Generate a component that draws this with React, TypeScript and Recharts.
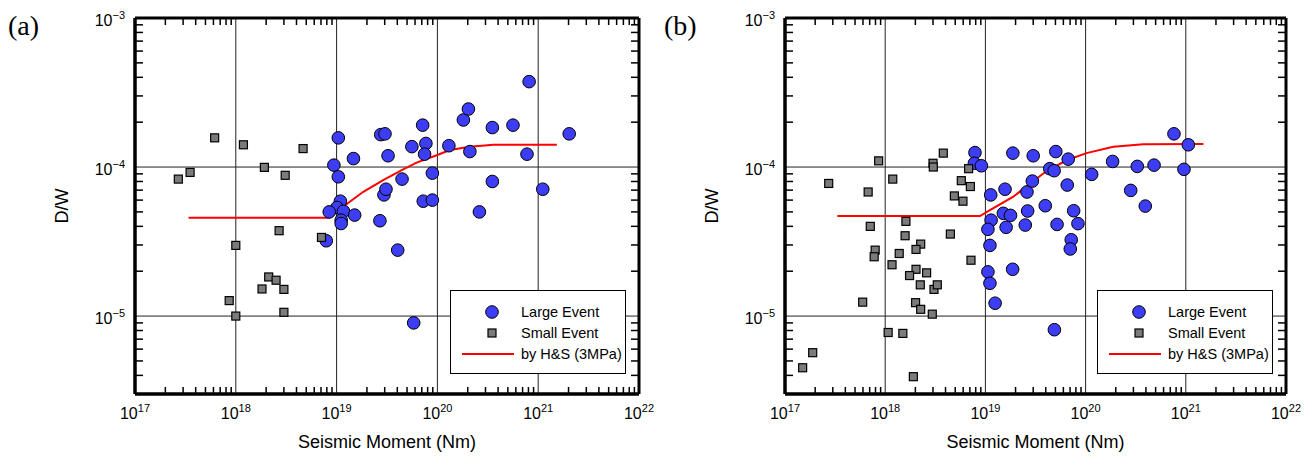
import React from "react";
import { ComposedChart, Scatter, Line, XAxis, YAxis, ReferenceLine, Legend } from "recharts";

type Pt = { m: number; dw: number };
const pts = (rows: [number, number][]): Pt[] => rows.map(([m, dw]) => ({ m, dw }));

const FONT = "'Liberation Sans', Arial, Helvetica, sans-serif";
const BLUE = "#3d3df5";
const GRAY = "#7b7b7b";

const X_DOMAIN: [number, number] = [1e17, 1e22];
const Y_DOMAIN: [number, number] = [3e-6, 1e-3];

// axis ticks (decades + log minor ticks)
const xMajor = [1e17, 1e18, 1e19, 1e20, 1e21, 1e22];
const yMajor = [1e-5, 1e-4, 1e-3];
const xMinor: number[] = [];
for (let e = 17; e < 22; e++) for (let k = 2; k <= 9; k++) xMinor.push(k * 10 ** e);
const yMinor: number[] = [];
for (let e = -6; e < -3; e++) for (let k = 2; k <= 9; k++) if (k * 10 ** e > 3.01e-6) yMinor.push(k * 10 ** e);

// (a) seismic moment [Nm], D/W
const largeA = pts([
  [1.04e19, 1.57e-4], [1.47e19, 1.14e-4], [9.4e18, 1.03e-4], [1.04e19, 8.6e-5],
  [2.74e19, 1.65e-4], [3.02e19, 1.67e-4], [3.24e19, 1.19e-4], [2.95e19, 6.5e-5],
  [3.09e19, 7.1e-5], [7.14e19, 1.91e-4], [5.58e19, 1.37e-4], [7.69e19, 1.44e-4],
  [7.46e19, 1.22e-4], [8.91e19, 9.1e-5], [4.46e19, 8.3e-5], [7.24e19, 5.9e-5],
  [8.91e19, 6.0e-5], [1.3e20, 1.39e-4], [1.81e20, 2.07e-4], [2.03e20, 2.45e-4],
  [2.1e20, 1.27e-4], [3.51e20, 1.84e-4], [3.51e20, 8.0e-5], [5.62e20, 1.91e-4],
  [8.13e20, 3.74e-4], [7.74e20, 1.22e-4], [1.11e21, 7.1e-5], [2.03e21, 1.67e-4],
  [2.61e20, 5.0e-5], [1.09e19, 5.9e-5], [1.01e19, 5.35e-5], [8.45e18, 5.0e-5],
  [1.17e19, 5.05e-5], [1.11e19, 4.4e-5], [1.11e19, 4.18e-5], [1.51e19, 4.76e-5],
  [7.9e18, 3.2e-5], [2.69e19, 4.36e-5], [4.04e19, 2.77e-5], [5.82e19, 9.0e-6],
]);

const smallA = pts([
  [6.17e17, 1.57e-4], [3.52e17, 9.2e-5], [2.69e17, 8.3e-5], [1.19e18, 1.41e-4],
  [1.92e18, 9.95e-5], [3.09e18, 8.8e-5], [4.65e18, 1.33e-4], [2.69e18, 3.74e-5],
  [1.0e18, 2.98e-5], [7.08e18, 3.37e-5], [2.12e18, 1.83e-5], [2.51e18, 1.74e-5],
  [1.82e18, 1.52e-5], [3.0e18, 1.51e-5], [8.6e17, 1.27e-5], [1.0e18, 1.0e-5],
  [3.0e18, 1.06e-5],
]);

const hsA = pts([
  [3.4e17, 4.57e-5], [8.5e18, 4.57e-5], [1.16e19, 5.42e-5], [1.84e19, 6.82e-5],
  [2.9e19, 8.18e-5], [4.43e19, 9.55e-5], [6.22e19, 1.07e-4], [9.84e19, 1.2e-4],
  [1.33e20, 1.3e-4], [2.1e20, 1.37e-4], [3.59e20, 1.41e-4], [1.53e21, 1.41e-4],
]);

// (b)
const largeB = pts([
  [7.87e18, 1.25e-4], [7.76e18, 1.06e-4], [9.12e18, 1.02e-4], [1.88e19, 1.24e-4],
  [3.0e19, 1.19e-4], [1.13e19, 6.5e-5], [1.57e19, 7.1e-5], [2.6e19, 6.8e-5],
  [2.94e19, 8.05e-5], [5.04e19, 1.27e-4], [6.71e19, 1.13e-4], [4.39e19, 9.75e-5],
  [4.85e19, 9.45e-5], [6.56e19, 7.57e-5], [1.15e20, 8.93e-5], [1.86e20, 1.09e-4],
  [3.28e20, 1.01e-4], [4.82e20, 1.03e-4], [7.62e20, 1.67e-4], [1.06e21, 1.41e-4],
  [9.59e20, 9.65e-5], [2.82e20, 6.97e-5], [3.94e20, 5.47e-5], [1.14e19, 4.4e-5],
  [1.06e19, 3.82e-5], [1.51e19, 4.89e-5], [1.78e19, 4.74e-5], [1.61e19, 3.94e-5],
  [2.64e19, 5.07e-5], [2.5e19, 4.08e-5], [3.96e19, 5.5e-5], [5.19e19, 4.12e-5],
  [7.6e19, 5.09e-5], [8.39e19, 4.17e-5], [7.19e19, 3.25e-5], [7.03e19, 2.82e-5],
  [1.11e19, 2.98e-5], [1.06e19, 1.98e-5], [1.11e19, 1.66e-5], [1.87e19, 2.06e-5],
  [1.25e19, 1.22e-5], [4.88e19, 8.1e-6],
]);

const smallB = pts([
  [8.6e17, 1.1e-4], [2.73e17, 7.76e-5], [6.76e17, 6.8e-5], [1.19e18, 8.3e-5],
  [3.0e18, 1.06e-4], [3.02e18, 1.0e-4], [3.8e18, 1.24e-4], [5.75e18, 8.1e-5],
  [7.08e18, 7.4e-5], [6.8e18, 9.75e-5], [4.9e18, 6.4e-5], [5.97e18, 5.9e-5],
  [7.1e17, 4.0e-5], [1.61e18, 4.32e-5], [1.58e18, 3.46e-5], [4.47e18, 3.55e-5],
  [7.94e17, 2.77e-5], [7.76e17, 2.5e-5], [1.38e18, 2.63e-5], [2.26e18, 3.04e-5],
  [2.03e18, 2.8e-5], [7.18e18, 2.37e-5], [1.17e18, 2.21e-5], [2.03e18, 2.06e-5],
  [1.75e18, 1.87e-5], [2.59e18, 1.95e-5], [2.24e18, 1.62e-5], [3.07e18, 1.51e-5],
  [3.31e18, 1.62e-5], [5.96e17, 1.24e-5], [2.01e18, 1.23e-5], [2.26e18, 1.11e-5],
  [2.95e18, 1.03e-5], [1.07e18, 7.76e-6], [1.5e18, 7.65e-6], [1.89e17, 5.68e-6],
  [1.5e17, 4.5e-6], [1.91e18, 3.92e-6],
]);

const hsB = pts([
  [3.33e17, 4.69e-5], [8.83e18, 4.69e-5], [1.11e19, 5.14e-5], [1.9e19, 6.32e-5],
  [2.79e19, 7.76e-5], [4.09e19, 9.4e-5], [6.46e19, 1.11e-4], [1.02e20, 1.24e-4],
  [1.89e20, 1.37e-4], [3.77e20, 1.42e-4], [1.5e21, 1.43e-4],
]);

// minor tick positions on the four sides of the frame
const ticksTop = xMinor.map((m) => ({ m, dw: Y_DOMAIN[1] }));
const ticksBottom = xMinor.map((m) => ({ m, dw: Y_DOMAIN[0] }));
const ticksLeft = yMinor.map((dw) => ({ m: X_DOMAIN[0], dw }));
const ticksRight = yMinor.map((dw) => ({ m: X_DOMAIN[1], dw }));

const expText = (v: number) => String(Math.round(Math.log10(v))).replace("-", "\u2212");

function tickBottom(props: any) {
  const { x, y, payload } = props;
  return (
    <text x={x} y={y + 25} textAnchor="middle" fontSize={16} fontFamily={FONT} fill="#000">
      10<tspan dy={-7} fontSize={11}>{expText(payload.value)}</tspan>
    </text>
  );
}

function tickLeft(props: any) {
  const { x, y, payload } = props;
  return (
    <text x={x - 10} y={y + 8} textAnchor="end" fontSize={16} fontFamily={FONT} fill="#000">
      10<tspan dy={-7} fontSize={11}>{expText(payload.value)}</tspan>
    </text>
  );
}

const noTick = () => <g />;

const markDown = (p: any) => <line x1={p.cx} x2={p.cx} y1={p.cy} y2={p.cy + 7} stroke="#000" strokeWidth={1.5} />;
const markUp = (p: any) => <line x1={p.cx} x2={p.cx} y1={p.cy} y2={p.cy - 7} stroke="#000" strokeWidth={1.5} />;
const markRight = (p: any) => <line x1={p.cx} x2={p.cx + 8} y1={p.cy} y2={p.cy} stroke="#000" strokeWidth={1.5} />;
const markLeft = (p: any) => <line x1={p.cx} x2={p.cx - 8} y1={p.cy} y2={p.cy} stroke="#000" strokeWidth={1.5} />;

const Circle = (p: any) => <circle cx={p.cx} cy={p.cy} r={6.3} fill={BLUE} stroke="#000" strokeWidth={1} />;
const Square = (p: any) => (
  <rect x={p.cx - 4} y={p.cy - 4} width={8} height={8} fill={GRAY} stroke="#000" strokeWidth={1.2} />
);

function LegendBox() {
  return (
    <svg width={176} height={84} style={{ display: "block" }}>
      <rect x={0.5} y={0.5} width={175} height={83} fill="#fff" stroke="#000" strokeWidth={1} />
      <circle cx={42} cy={22} r={6.3} fill={BLUE} stroke="#000" />
      <rect x={38} y={39} width={8} height={8} fill={GRAY} stroke="#000" strokeWidth={1.2} />
      <line x1={12} x2={64} y1={64} y2={64} stroke="#ff0000" strokeWidth={2} />
      <g fontFamily={FONT} fontSize={14.5} fill="#000">
        <text x={71} y={27}>Large Event</text>
        <text x={71} y={48}>Small Event</text>
        <text x={71} y={69}>by H&amp;S (3MPa)</text>
      </g>
    </svg>
  );
}

const frame = { stroke: "#000", strokeWidth: 3 };
const CHART_W = 660;
const CHART_H = 459;

function Panel({ large, small, hs, right }: { large: Pt[]; small: Pt[]; hs: Pt[]; right: number }) {
  return (
    <ComposedChart width={CHART_W} height={CHART_H} margin={{ top: 18, right, bottom: 0, left: 0 }}>
      <XAxis
        dataKey="m" type="number" scale="log" domain={X_DOMAIN} allowDataOverflow
        ticks={xMajor} interval={0} tickSize={0} tickMargin={0} tickLine={false}
        tick={tickBottom} height={65} axisLine={frame}
        label={{ value: "Seismic Moment (Nm)", position: "insideBottom", offset: 11, fontSize: 18, fill: "#000", fontFamily: FONT }}
      />
      <YAxis
        dataKey="dw" type="number" scale="log" domain={Y_DOMAIN} allowDataOverflow
        ticks={yMajor} interval={0} tickSize={0} tickMargin={0} tickLine={false}
        tick={tickLeft} width={135} axisLine={frame}
        label={(p: any) => {
          const vb = p.viewBox || { x: 0, y: 18, width: 135, height: 376 };
          const cx = vb.x + 62;
          const cy = vb.y + vb.height / 2;
          return (
            <text x={cx} y={cy} transform={`rotate(-90 ${cx} ${cy})`} textAnchor="middle" dominantBaseline="central" fontSize={18} fontFamily={FONT} fill="#000">
              D/W
            </text>
          );
        }}
      />
      {xMajor.slice(1, -1).map((v) => (
        <ReferenceLine key={`gx${v}`} x={v} stroke="#222" strokeWidth={1} />
      ))}
      {yMajor.slice(0, -1).map((v) => (
        <ReferenceLine key={`gy${v}`} y={v} stroke="#222" strokeWidth={1} />
      ))}
      <Scatter name="Large Event" data={large} shape={Circle} isAnimationActive={false} />
      <Scatter name="Small Event" data={small} shape={Square} isAnimationActive={false} />
      <Line name="by H&S (3MPa)" data={hs} dataKey="dw" type="linear" stroke="#ff0000" strokeWidth={2} dot={false} activeDot={false} isAnimationActive={false} />
      <Legend
        layout="vertical" verticalAlign="middle" align="center"
        content={() => <LegendBox />}
        wrapperStyle={{ left: CHART_W - right - 189, top: 290, width: 176, height: 84 }}
      />
    </ComposedChart>
  );
}

// same geometry as Panel: frame and the log minor ticks drawn on top
function Frame({ right }: { right: number }) {
  return (
    <ComposedChart width={CHART_W} height={CHART_H} margin={{ top: 18, right, bottom: 0, left: 0 }}>
      <XAxis dataKey="m" type="number" scale="log" domain={X_DOMAIN} allowDataOverflow ticks={xMajor} interval={0} tickSize={0} tickLine={false} tick={noTick} height={65} axisLine={frame} />
      <XAxis xAxisId="top" orientation="top" mirror type="number" scale="log" domain={X_DOMAIN} allowDataOverflow ticks={xMajor} interval={0} tickSize={0} tickLine={false} tick={noTick} height={1} axisLine={frame} />
      <YAxis dataKey="dw" type="number" scale="log" domain={Y_DOMAIN} allowDataOverflow ticks={yMajor} interval={0} tickSize={0} tickLine={false} tick={noTick} width={135} axisLine={frame} />
      <YAxis yAxisId="right" orientation="right" mirror type="number" scale="log" domain={Y_DOMAIN} allowDataOverflow ticks={yMajor} interval={0} tickSize={0} tickLine={false} tick={noTick} width={1} axisLine={frame} />
      <Scatter data={ticksTop} shape={markDown} isAnimationActive={false} />
      <Scatter data={ticksBottom} shape={markUp} isAnimationActive={false} />
      <Scatter data={ticksLeft} shape={markRight} isAnimationActive={false} />
      <Scatter data={ticksRight} shape={markLeft} isAnimationActive={false} />
    </ComposedChart>
  );
}

export default function App() {
  const layer = (left: number): React.CSSProperties => ({ position: "absolute", left, top: 0 });
  return (
    <div style={{ position: "absolute", left: 0, top: 0, width: 1316, height: 459, background: "#fff" }}>
      <div style={layer(0)}>
        <Panel large={largeA} small={smallA} hs={hsA} right={21} />
      </div>
      <div style={{ ...layer(0), pointerEvents: "none" }}>
        <Frame right={21} />
      </div>
      <div style={layer(650)}>
        <Panel large={largeB} small={smallB} hs={hsB} right={24} />
      </div>
      <div style={{ ...layer(650), pointerEvents: "none" }}>
        <Frame right={24} />
      </div>
      <svg width={1316} height={50} style={{ position: "absolute", left: 0, top: 0, pointerEvents: "none" }}>
        <text x={8} y={35} fontSize={28} fontFamily="'Liberation Serif', 'Times New Roman', serif" fill="#000">(a)</text>
        <text x={664} y={35} fontSize={28} fontFamily="'Liberation Serif', 'Times New Roman', serif" fill="#000">(b)</text>
      </svg>
    </div>
  );
}
